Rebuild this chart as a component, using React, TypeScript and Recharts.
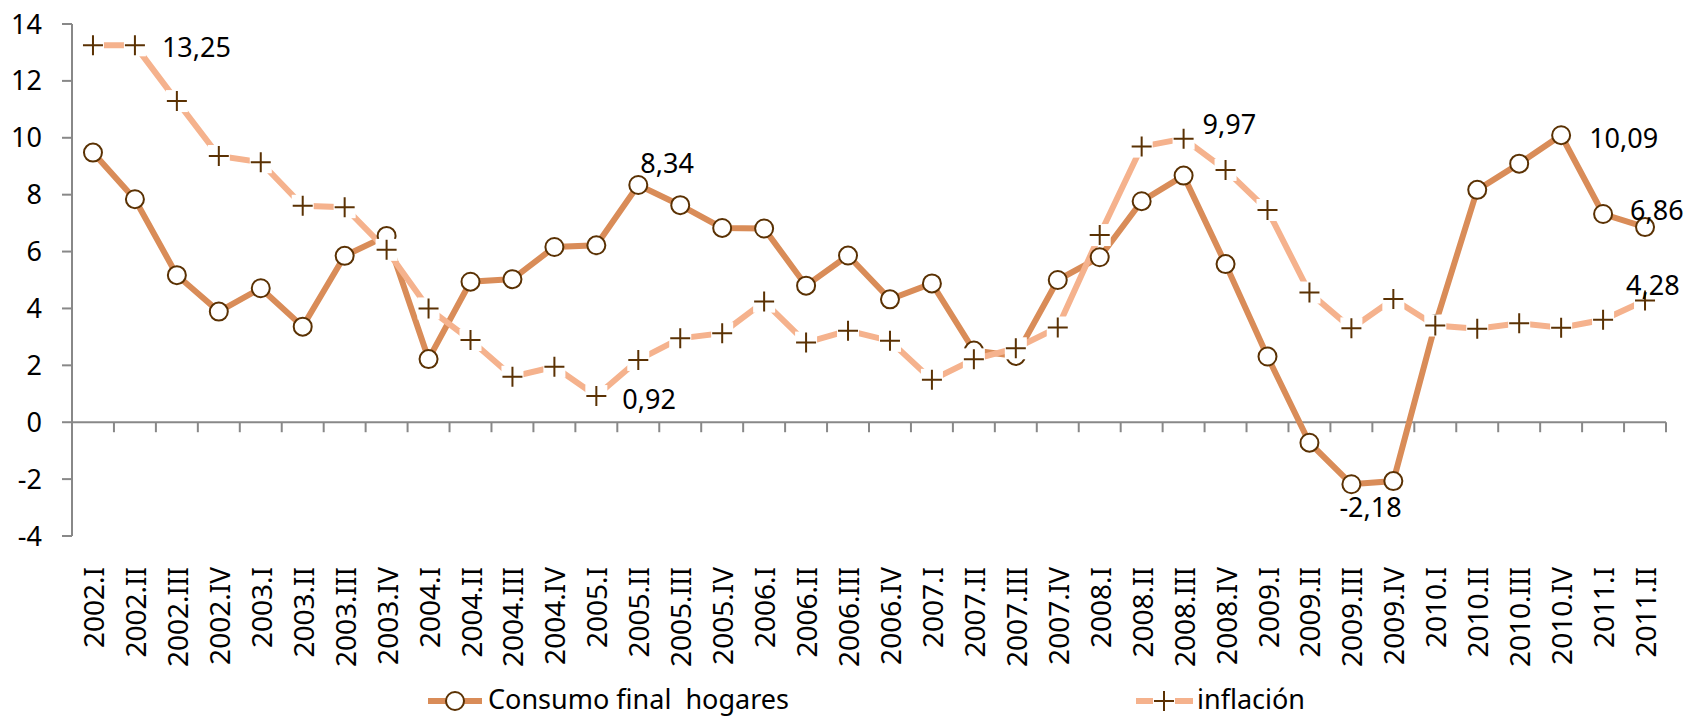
import React from 'react';
import { LineChart, Line, XAxis, YAxis, ReferenceLine, Legend } from 'recharts';

const categories = [
  '2002.I', '2002.II', '2002.III', '2002.IV',
  '2003.I', '2003.II', '2003.III', '2003.IV',
  '2004.I', '2004.II', '2004.III', '2004.IV',
  '2005.I', '2005.II', '2005.III', '2005.IV',
  '2006.I', '2006.II', '2006.III', '2006.IV',
  '2007.I', '2007.II', '2007.III', '2007.IV',
  '2008.I', '2008.II', '2008.III', '2008.IV',
  '2009.I', '2009.II', '2009.III', '2009.IV',
  '2010.I', '2010.II', '2010.III', '2010.IV',
  '2011.I', '2011.II',
];

const consumo = [
  9.48, 7.84, 5.17, 3.89,
  4.71, 3.36, 5.85, 6.55,
  2.22, 4.94, 5.03, 6.16,
  6.22, 8.34, 7.63, 6.83,
  6.81, 4.8, 5.86, 4.32,
  4.88, 2.52, 2.33, 5.0,
  5.8, 7.77, 8.67, 5.56,
  2.31, -0.72, -2.18, -2.07,
  3.44, 8.17, 9.09, 10.09,
  7.32, 6.86,
];

const inflacion = [
  13.25, 13.25, 11.29, 9.36,
  9.14, 7.61, 7.56, 6.06,
  4.0, 2.89, 1.6, 1.95,
  0.92, 2.19, 2.95, 3.13,
  4.24, 2.8, 3.22, 2.86,
  1.49, 2.21, 2.6, 3.33,
  6.58, 9.69, 9.97, 8.87,
  7.46, 4.56, 3.3, 4.33,
  3.4, 3.29, 3.48, 3.32,
  3.6, 4.28,
];

const yTicks = [-4, -2, 0, 2, 4, 6, 8, 10, 12, 14];

const seriesNames = ['Consumo final  hogares', 'inflación'];

// indices of points that carry a data label
const consumoLabelIdx = [13, 30, 35, 37];
const inflacionLabelIdx = [1, 12, 26, 37];

// label placement (style only): [dx, dy] from the point, text anchored at start
const consumoLabelOffset: Record<number, [number, number]> = {
  13: [2, -22],
  30: [-12, 22],
  35: [28, 2],
  37: [-15, -18],
};
const inflacionLabelOffset: Record<number, [number, number]> = {
  1: [27, 1],
  12: [26, 2],
  26: [19, -15],
  37: [-19, -16],
};

const FONT = '"Noto Sans", "Open Sans", sans-serif';
const AXIS = '#888888';
const C_CONSUMO = '#D98C58';
const C_INFL = '#F5B28D';
const MARK = '#5A3103';

const data = categories.map((c, i) => ({ cat: c, consumo: consumo[i], inflacion: inflacion[i] }));

const fmt = (v: number) => v.toFixed(2).replace('.', ',');

const DataLabel = ({ x, y, text }: { x: number; y: number; text: string }) => (
  <text x={x} y={y} dominantBaseline="central" textAnchor="start" fontFamily={FONT} fontSize={27} fill="#000">
    {text}
  </text>
);

const CircleDot = (p: any) => {
  const { cx, cy, index } = p;
  const off = consumoLabelOffset[index];
  return (
    <g key={`c-${index}`}>
      <circle cx={cx} cy={cy} r={9} fill="#fff" stroke={MARK} strokeWidth={2} />
      {consumoLabelIdx.includes(index) && off ? (
        <DataLabel x={cx + off[0]} y={cy + off[1]} text={fmt(consumo[index])} />
      ) : null}
    </g>
  );
};

const CrossDot = (p: any) => {
  const { cx, cy, index } = p;
  const off = inflacionLabelOffset[index];
  return (
    <g key={`x-${index}`}>
      <rect x={cx - 11} y={cy - 11} width={22} height={22} fill="#fff" />
      <path d={`M${cx - 10},${cy}H${cx + 10}M${cx},${cy - 10}V${cy + 10}`} stroke={MARK} strokeWidth={2} />
      {inflacionLabelIdx.includes(index) && off ? (
        <DataLabel x={cx + off[0]} y={cy + off[1]} text={fmt(inflacion[index])} />
      ) : null}
    </g>
  );
};

const XTick = (p: any) => {
  const { x, y, payload } = p;
  return (
    <g transform={`translate(${x},${y})`}>
      <text
        transform="rotate(-90)"
        x={-31}
        y={0}
        textAnchor="end"
        dominantBaseline="central"
        fontFamily={FONT}
        fontSize={28}
        fill="#000"
      >
        {payload.value}
      </text>
    </g>
  );
};

const ZeroAxis = (props: any) => {
  const x1 = props.x1 ?? props.points?.[0]?.x;
  const y1 = props.y1 ?? props.points?.[0]?.y;
  const x2 = props.x2 ?? props.points?.[1]?.x;
  const y2 = props.y2 ?? props.points?.[1]?.y;
  const n = categories.length;
  const step = (x2 - x1) / n;
  return (
    <g>
      <line x1={x1} y1={y1} x2={x2} y2={y2} stroke={AXIS} strokeWidth={2} />
      {Array.from({ length: n + 1 }, (_, i) => (
        <line key={i} x1={x1 + i * step} x2={x1 + i * step} y1={y1} y2={y1 + 10} stroke={AXIS} strokeWidth={2} />
      ))}
    </g>
  );
};

const renderLegend = () => (
  <svg width={1686} height={40} style={{ display: 'block' }}>
    <line x1={428} x2={482} y1={24} y2={24} stroke={C_CONSUMO} strokeWidth={6} />
    <circle cx={455} cy={24} r={9} fill="#fff" stroke={MARK} strokeWidth={2} />
    <text x={488} y={32} fontFamily={FONT} fontSize={27} fill="#000" style={{ whiteSpace: 'pre' }}>
      {seriesNames[0]}
    </text>
    <line x1={1136} x2={1193} y1={24} y2={24} stroke={C_INFL} strokeWidth={6} />
    <rect x={1153} y={13} width={22} height={22} fill="#fff" />
    <path d="M1154,24H1174M1164,14V34" stroke={MARK} strokeWidth={2} />
    <text x={1197} y={32} fontFamily={FONT} fontSize={27} fill="#000">
      {seriesNames[1]}
    </text>
  </svg>
);

export default function App() {
  return (
    <div style={{ position: 'absolute', left: 0, top: 0, width: 1686, height: 717, background: '#fff' }}>
      <LineChart width={1686} height={717} data={data} margin={{ top: 24, right: 20, left: 0, bottom: 0 }}>
        <XAxis
          dataKey="cat"
          scale="band"
          interval={0}
          axisLine={false}
          tickLine={false}
          tickSize={0}
          tickMargin={0}
          height={141}
          tick={<XTick />}
        />
        <YAxis
          domain={[-4, 14]}
          ticks={yTicks}
          interval={0}
          width={72}
          axisLine={{ stroke: AXIS, strokeWidth: 2 }}
          tickLine={{ stroke: AXIS, strokeWidth: 2 }}
          tickSize={10}
          tickMargin={20}
          tick={{ fontFamily: FONT, fontSize: 27, fill: '#000' }}
        />
        <ReferenceLine y={0} shape={<ZeroAxis />} />
        <Line
          dataKey="consumo"
          name={seriesNames[0]}
          type="linear"
          stroke={C_CONSUMO}
          strokeWidth={6}
          dot={CircleDot}
          activeDot={false}
          isAnimationActive={false}
        />
        <Line
          dataKey="inflacion"
          name={seriesNames[1]}
          type="linear"
          stroke={C_INFL}
          strokeWidth={6}
          dot={CrossDot}
          activeDot={false}
          isAnimationActive={false}
        />
        <Legend verticalAlign="bottom" height={40} content={renderLegend} wrapperStyle={{ left: 0, bottom: 0, width: 1686 }} />
      </LineChart>
    </div>
  );
}
